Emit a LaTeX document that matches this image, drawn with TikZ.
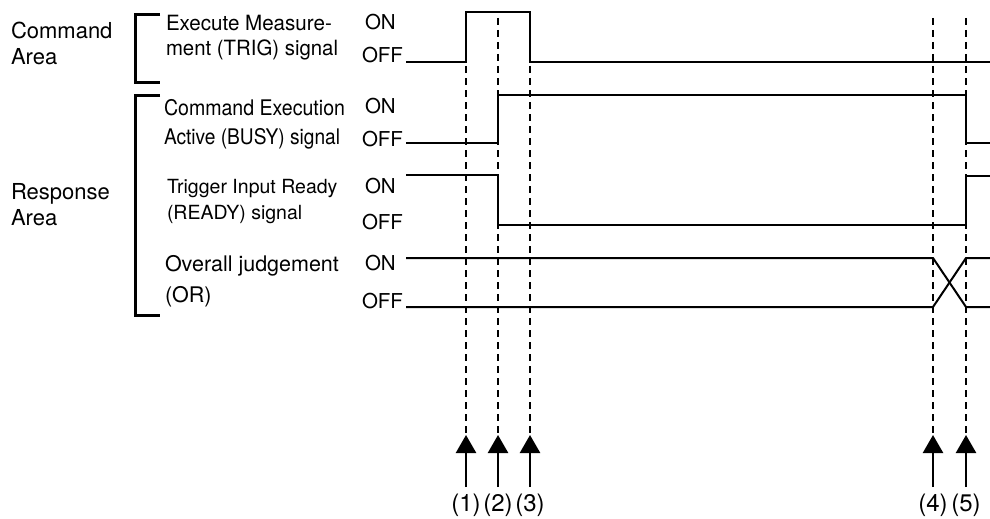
\documentclass[tikz,border=0pt]{standalone}
\usepackage{fontspec}
\setmainfont{TeX Gyre Heros}
\usetikzlibrary{arrows.meta}
\newcommand{\fsz}[1]{\fontsize{#1}{#1}\selectfont}
\newcommand{\hsq}[2]{\scalebox{#1}[1]{#2}}
\begin{document}
\begin{tikzpicture}[x=1pt,y=-1pt,
  lbl/.style={anchor=base west, inner sep=0pt, outer sep=0pt},
  onoff/.style={lbl, font=\fsz{20.5}},
  sig/.style={line width=2pt, line join=miter},
  brk/.style={line width=3pt},
  guide/.style={line width=2pt, dash pattern=on 7pt off 5pt},
  evt/.style={line width=2.5pt, -{Triangle[length=18pt,width=20pt]}},
  evlabel/.style={anchor=base, inner sep=0pt, font=\fsz{24}},
]
\useasboundingbox (0,0) rectangle (990,519);

% area labels
\node[lbl,font=\fsz{22}] (cmdA) at (11,39) {Command};
\node[lbl,font=\fsz{22}] (cmdB) at (11,65) {Area};
\node[lbl,font=\fsz{22}] (rspA) at (11,199) {Response};
\node[lbl,font=\fsz{22}] (rspB) at (11,225) {Area};

% brackets
\draw[brk] (160,15) -- (135,15) -- (135,82) -- (160,82);
\draw[brk] (160,95) -- (135,95) -- (135,315) -- (160,315);

% signal labels
\node[lbl,font=\fsz{21}] (trigA) at (166,31) {\hsq{0.98}{Execute Measure-}};
\node[lbl,font=\fsz{21}] (trigB) at (166,56) {\hsq{0.97}{ment (TRIG) signal}};
\node[lbl,font=\fsz{21.5}] (busyA) at (164,115) {\hsq{0.91}{Command Execution}};
\node[lbl,font=\fsz{21.5}] (busyB) at (164,144) {\hsq{0.89}{Active (BUSY) signal}};
\node[lbl,font=\fsz{19.5}] (rdyA) at (167,193) {Trigger Input Ready};
\node[lbl,font=\fsz{19.5}] (rdyB) at (167,219) {(READY) signal};
\node[lbl,font=\fsz{21.5}] (orA) at (165,271) {Overall judgement};
\node[lbl,font=\fsz{21.5}] (orB) at (165,302) {(OR)};

% ON / OFF
\node[onoff] (on1) at (365,30) {ON};
\node[onoff] (off1) at (362,63) {OFF};
\node[onoff] (on2) at (365,113) {ON};
\node[onoff] (off2) at (362,146) {OFF};
\node[onoff] (on3) at (365,193) {ON};
\node[onoff] (off3) at (362,229) {OFF};
\node[onoff] (on4) at (365,270) {ON};
\node[onoff] (off4) at (362,308) {OFF};

% event guides and arrows
\foreach \x/\n in {466/1,498/2,530/3,933/4,966/5}{
  \coordinate (t\n) at (\x,18);
  \coordinate (h\n) at (\x,435);
  \coordinate (b\n) at (\x,487);
  \draw[guide] (t\n) -- (h\n);
  \draw[evt] (b\n) -- (h\n);
  \node[evlabel] (lab\n) at (\x,511) {(\n)};
}

% signals
\draw[sig] (406,62) -- (466,62) -- (466,12) -- (530,12) -- (530,62) -- (990,62);
\draw[sig] (406,143) -- (498,143) -- (498,95) -- (966,95) -- (966,143) -- (990,143);
\draw[sig] (406,175) -- (498,175) -- (498,225) -- (966,225) -- (966,176) -- (990,176);
\draw[sig] (406,258) -- (933,258) -- (966,307) -- (990,307);
\draw[sig] (406,307) -- (933,307) -- (966,258) -- (990,258);
\end{tikzpicture}
\end{document}
